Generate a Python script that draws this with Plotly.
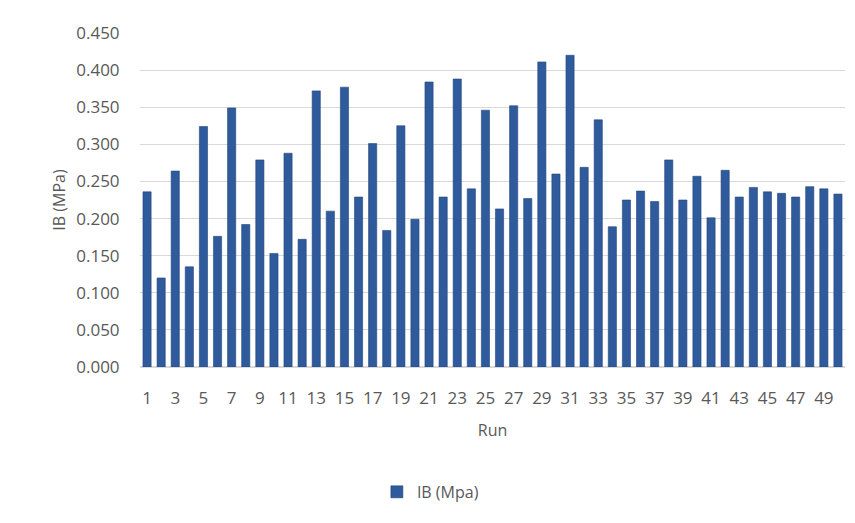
import plotly.graph_objects as go

# Internal bond strength per run
runs = list(range(1, 51))
ib_mpa = [
    0.236, 0.120, 0.264, 0.135, 0.324, 0.176, 0.349, 0.192, 0.279, 0.153,
    0.288, 0.172, 0.372, 0.210, 0.377, 0.229, 0.301, 0.184, 0.325, 0.199,
    0.384, 0.229, 0.388, 0.240, 0.346, 0.213, 0.352, 0.227, 0.411, 0.260,
    0.420, 0.269, 0.333, 0.189, 0.225, 0.237, 0.223, 0.279, 0.225, 0.257,
    0.201, 0.265, 0.229, 0.242, 0.236, 0.234, 0.229, 0.243, 0.240, 0.233,
]
x_ticks = [str(r) for r in runs if r % 2 == 1]
y_ticks = [i * 0.05 for i in range(10)]

font_family = "Open Sans, Liberation Sans, sans-serif"
grey = "#595959"

fig = go.Figure(
    go.Bar(
        x=[str(r) for r in runs],
        y=ib_mpa,
        name="IB (Mpa)",
        marker=dict(color="#2f5a9b", line=dict(width=0.6, color="#24487d")),
    )
)

fig.update_layout(
    width=855,
    height=523,
    margin=dict(l=140, r=10, t=33, b=156),
    paper_bgcolor="white",
    plot_bgcolor="white",
    bargap=0.42,
    font=dict(family=font_family, color=grey, size=16),
    showlegend=True,
    legend=dict(
        orientation="h",
        x=0.336,
        xanchor="left",
        y=-0.374,
        yanchor="middle",
        itemwidth=30,
        font=dict(size=16, color=grey),
    ),
)

fig.update_xaxes(
    type="category",
    tickmode="array",
    tickvals=x_ticks,
    ticktext=x_ticks,
    tickangle=0,
    showgrid=False,
    showline=False,
    ticks="outside",
    ticklen=16,
    tickcolor="white",
    tickfont=dict(size=17, color=grey),
    title=dict(text="Run", font=dict(size=16, color=grey), standoff=16),
)

fig.update_yaxes(
    range=[0, 0.45],
    tickmode="array",
    tickvals=y_ticks,
    ticktext=[f"{v:.3f}" for v in y_ticks],
    showgrid=True,
    gridcolor="#d9d9d9",
    gridwidth=1,
    zeroline=True,
    zerolinecolor="#d9d9d9",
    showline=False,
    ticks="outside",
    ticklen=16,
    tickcolor="white",
    tickfont=dict(size=17, color=grey),
    title=dict(text="IB (MPa)", font=dict(size=16, color=grey), standoff=6),
)

fig.write_html("out.html")
